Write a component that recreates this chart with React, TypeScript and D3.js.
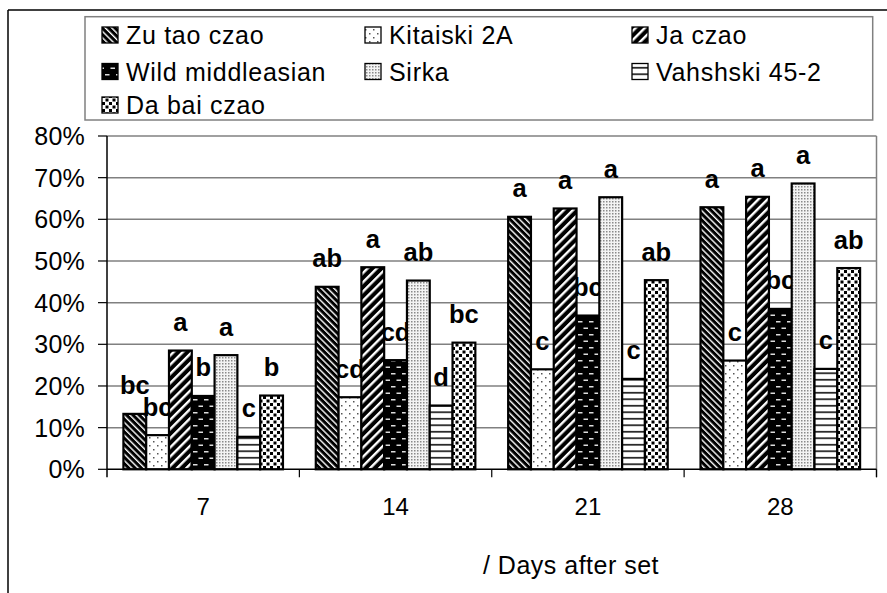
import React from "react";
import * as d3 from "d3";

// days after set
const days = ["7", "14", "21", "28"];
const varieties = [
  "Zu tao czao",
  "Kitaiski 2A",
  "Ja czao",
  "Wild middleasian",
  "Sirka",
  "Vahshski 45-2",
  "Da bai czao",
];

// share per variety, one array per day
const day7 = [0.133, 0.082, 0.285, 0.176, 0.274, 0.078, 0.177];
const day14 = [0.438, 0.173, 0.485, 0.262, 0.453, 0.153, 0.304];
const day21 = [0.606, 0.24, 0.626, 0.369, 0.653, 0.217, 0.454];
const day28 = [0.629, 0.261, 0.654, 0.385, 0.686, 0.241, 0.483];
const values = [day7, day14, day21, day28];

// significance letters over the bars
const letters7 = ["bc", "bc", "a", "b", "a", "c", "b"];
const letters14 = ["ab", "cd", "a", "cd", "ab", "d", "bc"];
const letters21 = ["a", "c", "a", "bc", "a", "c", "ab"];
const letters28 = ["a", "c", "a", "bc", "a", "c", "ab"];
const letters = [letters7, letters14, letters21, letters28];

const yTicks = [0, 0.1, 0.2, 0.3, 0.4, 0.5, 0.6, 0.7, 0.8];

const width = 887;
const height = 593;
const plot = { left: 107, right: 876.5, top: 136, bottom: 469.3 };
const font = "'Liberation Sans', Arial, sans-serif";

function Patterns() {
  return (
    <defs>
      <pattern id="p0" patternUnits="userSpaceOnUse" width="4.5" height="4.5" patternTransform="rotate(-45)">
        <rect width="4.5" height="4.5" fill="#000" />
        <rect width="1.4" height="4.5" fill="#fff" />
      </pattern>
      <pattern id="p1" patternUnits="userSpaceOnUse" width="8" height="8">
        <rect width="8" height="8" fill="#fff" />
        <rect x="1" y="1" width="1.5" height="1.5" fill="#555" />
        <rect x="5" y="5" width="1.5" height="1.5" fill="#555" />
      </pattern>
      <pattern id="p2" patternUnits="userSpaceOnUse" width="6.5" height="6.5" patternTransform="rotate(45)">
        <rect width="6.5" height="6.5" fill="#000" />
        <rect width="2.4" height="6.5" fill="#fff" />
      </pattern>
      <pattern id="p3" patternUnits="userSpaceOnUse" width="11" height="13">
        <rect width="11" height="13" fill="#000" />
        <rect x="0.5" y="2.5" width="4.5" height="1.5" fill="#ddd" />
        <rect x="6" y="9" width="4.5" height="1.5" fill="#ddd" />
      </pattern>
      <pattern id="p4" patternUnits="userSpaceOnUse" width="3" height="3">
        <rect width="3" height="3" fill="#f4f4f4" />
        <rect width="1.5" height="1.5" fill="#8a8a8a" />
      </pattern>
      <pattern id="p5" patternUnits="userSpaceOnUse" width="6.5" height="6.5">
        <rect width="6.5" height="6.5" fill="#fff" />
        <rect y="2" width="6.5" height="1.5" fill="#000" />
      </pattern>
      <pattern id="p6" patternUnits="userSpaceOnUse" width="7" height="7">
        <rect width="7" height="7" fill="#fff" />
        <rect x="0.5" y="0.5" width="3" height="3" fill="#000" />
        <rect x="4" y="4" width="3" height="3" fill="#000" />
      </pattern>
    </defs>
  );
}

export default function App() {
  const x = d3.scaleBand().domain(days).range([plot.left, plot.right]).padding(0);
  const xs = d3
    .scaleBand()
    .domain(varieties)
    .range([0, x.bandwidth()])
    .paddingInner(0)
    .paddingOuter(0.72);
  const y = d3.scaleLinear().domain([0, 0.8]).range([plot.bottom, plot.top]);
  const pct = d3.format(".0%");

  // legend: 3 columns
  const legendCols = [102, 365, 632];
  const legendRows = [35, 71.5, 105];

  return (
    <svg
      width={width}
      height={height}
      style={{ position: "absolute", left: 0, top: 0, background: "#fff" }}
      fontFamily={font}
    >
      <Patterns />
      {/* outer frame (only top and left edges show) */}
      <line x1={8} x2={width} y1={10} y2={10} stroke="#000" strokeWidth={1.5} />
      <line x1={8} x2={8} y1={10} y2={height} stroke="#000" strokeWidth={1.5} />

      {/* legend */}
      <rect x={85} y={16.7} width={787.7} height={103.3} fill="#fff" stroke="#808080" strokeWidth={1.5} />
      {varieties.map((v, i) => {
        const cx = legendCols[i % 3];
        const cy = legendRows[Math.floor(i / 3)];
        return (
          <g key={v}>
            <rect x={cx} y={cy - 8} width={16} height={16} fill={`url(#p${i})`} stroke="#000" strokeWidth={1.3} />
            <text x={cx + 24} y={cy + 9} fontSize={25} letterSpacing={0.7}>
              {v}
            </text>
          </g>
        );
      })}

      {/* gridlines */}
      {yTicks.slice(1).map((t) => (
        <line key={t} x1={plot.left} x2={plot.right} y1={y(t)} y2={y(t)} stroke="#808080" strokeWidth={1.5} />
      ))}
      <line x1={plot.right} x2={plot.right} y1={plot.top} y2={plot.bottom + 8} stroke="#808080" strokeWidth={1.5} />

      {/* letters go under the bars, the next bars cover them */}
      {days.map((d, di) =>
        varieties.map((v, vi) => (
          <text
            key={d + v}
            x={x(d)! + xs(v)! + xs.bandwidth() / 2}
            y={y(values[di][vi]) - 19.5}
            textAnchor="middle"
            fontSize={25.5}
            fontWeight="bold"
          >
            {letters[di][vi]}
          </text>
        ))
      )}

      {/* bars */}
      {days.map((d, di) =>
        varieties.map((v, vi) => (
          <rect
            key={d + v}
            x={x(d)! + xs(v)!}
            y={y(values[di][vi])}
            width={xs.bandwidth()}
            height={y(0) - y(values[di][vi])}
            fill={`url(#p${vi})`}
            stroke="#000"
            strokeWidth={2.2}
          />
        ))
      )}

      {/* y axis */}
      <line x1={plot.left} x2={plot.left} y1={plot.top} y2={plot.bottom + 8} stroke="#000" strokeWidth={1.5} />
      {yTicks.map((t) => (
        <g key={t}>
          <line x1={plot.left - 9} x2={plot.left} y1={y(t)} y2={y(t)} stroke="#000" strokeWidth={1.2} />
          <text x={85} y={y(t) + 9} textAnchor="end" fontSize={25} letterSpacing={0.2}>
            {pct(t)}
          </text>
        </g>
      ))}

      {/* x axis */}
      <line x1={plot.left} x2={plot.right} y1={plot.bottom} y2={plot.bottom} stroke="#000" strokeWidth={1.5} />
      {days.map((d) => (
        <g key={d}>
          <line x1={x(d)! + x.bandwidth()} x2={x(d)! + x.bandwidth()} y1={plot.bottom} y2={plot.bottom + 8} stroke="#000" strokeWidth={1.2} />
          <text x={x(d)! + x.bandwidth() / 2} y={515} textAnchor="middle" fontSize={24}>
            {d}
          </text>
        </g>
      ))}
      <text x={571} y={574} textAnchor="middle" fontSize={25} letterSpacing={0.5}>
        / Days after set
      </text>
    </svg>
  );
}
